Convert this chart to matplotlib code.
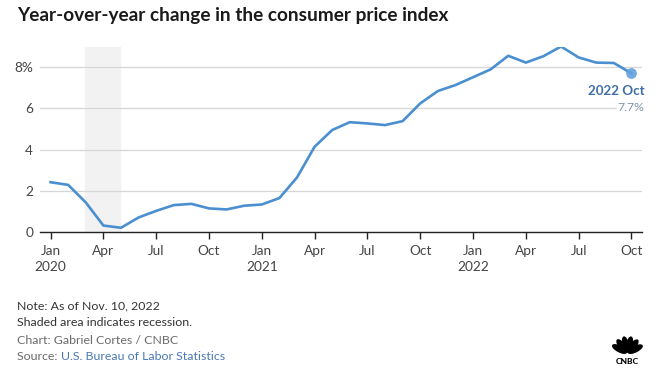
import numpy as np
from matplotlib import pyplot as plt
from matplotlib.patches import Ellipse

plt.rcParams["font.family"] = ["Lato", "DejaVu Sans"]

# Monthly CPI, year-over-year % change, Jan 2020 - Oct 2022
months = [
    "2020-01", "2020-02", "2020-03", "2020-04", "2020-05", "2020-06",
    "2020-07", "2020-08", "2020-09", "2020-10", "2020-11", "2020-12",
    "2021-01", "2021-02", "2021-03", "2021-04", "2021-05", "2021-06",
    "2021-07", "2021-08", "2021-09", "2021-10", "2021-11", "2021-12",
    "2022-01", "2022-02", "2022-03", "2022-04", "2022-05", "2022-06",
    "2022-07", "2022-08", "2022-09", "2022-10",
]
cpi_yoy = [
    2.42, 2.29, 1.44, 0.32, 0.21, 0.71, 1.03, 1.31, 1.37, 1.15, 1.10, 1.28,
    1.34, 1.65, 2.65, 4.14, 4.95, 5.33, 5.27, 5.19, 5.38, 6.24, 6.84, 7.13,
    7.51, 7.89, 8.55, 8.22, 8.53, 9.00, 8.47, 8.22, 8.20, 7.70,
]
tick_months = ["2020-01", "2020-04", "2020-07", "2020-10", "2021-01", "2021-04",
               "2021-07", "2021-10", "2022-01", "2022-04", "2022-07", "2022-10"]
tick_labels = ["Jan\n2020", "Apr", "Jul", "Oct", "Jan\n2021", "Apr", "Jul", "Oct",
               "Jan\n2022", "Apr", "Jul", "Oct"]
recession = ("2020-03", "2020-05")
y_ticks = [0, 2, 4, 6, 8]
y_labels = ["0", "2", "4", "6", "8%"]

x = np.arange(len(months))
idx = {m: i for i, m in enumerate(months)}

fig = plt.figure(figsize=(6.59, 3.75), dpi=100)
ax = fig.add_axes([0.0607, 0.381, 0.9135, 0.495])

line_color = "#4a8fd0"
ax.axvspan(idx[recession[0]] - 0.04, idx[recession[1]] - 0.04, color="#f2f2f2", zorder=0)
ax.plot(x, cpi_yoy, color=line_color, lw=1.9, zorder=3, solid_joinstyle="round")
ax.scatter([x[-1]], [cpi_yoy[-1]], s=60, color="#62a2dc", alpha=0.9, zorder=4, lw=0)

ax.set_xlim(-0.6, 33.6)
ax.set_ylim(0, 9)
ax.set_yticks(y_ticks)
ax.set_yticklabels(y_labels)
ax.set_xticks([idx[m] for m in tick_months])
ax.set_xticklabels(tick_labels, linespacing=1.4)
ax.grid(axis="y", color="#d6d6d6", lw=0.9)
ax.set_axisbelow(True)
for s in ["top", "right", "left"]:
    ax.spines[s].set_visible(False)
ax.spines["bottom"].set_color("#222222")
ax.spines["bottom"].set_linewidth(1.0)
ax.tick_params(axis="x", length=5, width=1, color="#222222", labelsize=9.8,
               labelcolor="#444444", pad=4)
ax.tick_params(axis="y", length=0, labelsize=9.8, labelcolor="#444444", pad=5)

# end label
ax.annotate("2022 Oct", (x[-1], cpi_yoy[-1]), xytext=(9.5, -12.5), textcoords="offset points",
            ha="right", va="center", fontsize=9.6, fontweight="bold", color="#3f6ea8")
ax.annotate("7.7%", (x[-1], cpi_yoy[-1]), xytext=(9.5, -24.5), textcoords="offset points",
            ha="right", va="center", fontsize=8.8, color="#7f92ab",
            bbox=dict(boxstyle="square,pad=0.1", fc="white", ec="none"))

fig.text(0.026, 0.958, "Year-over-year change in the consumer price index",
         fontsize=13.7, fontweight="bold", color="#1a1a1a", va="center")

fig.text(0.026, 0.185, "Note: As of Nov. 10, 2022", fontsize=8.9, color="#333333", va="center")
fig.text(0.026, 0.141, "Shaded area indicates recession.", fontsize=8.9, color="#333333", va="center")
fig.text(0.026, 0.091, "Chart: Gabriel Cortes / CNBC", fontsize=8.9, color="#6a6a6a", va="center")
t = fig.text(0.026, 0.049, "Source: ", fontsize=8.9, color="#6a6a6a", va="center")
fig.canvas.draw()
bb = t.get_window_extent()
fig.text(bb.x1 / fig.bbox.width, 0.049, "U.S. Bureau of Labor Statistics",
         fontsize=8.9, color="#4a78b5", va="center")

# CNBC peacock logo
logo = fig.add_axes([0.925, 0.025, 0.054, 0.09])
logo.set_xlim(-1, 1)
logo.set_ylim(-0.75, 1.15)
logo.axis("off")
for k in range(6):
    ang = 152 - k * 25
    r = np.deg2rad(ang)
    logo.add_patch(Ellipse((0.5 * np.cos(r), -0.05 + 0.5 * np.sin(r)), 0.85, 0.3,
                           angle=ang, color="black"))
logo.text(0, -0.5, "CNBC", ha="center", va="center", fontsize=6, fontweight="black")

fig.savefig("out.png", dpi=100)
